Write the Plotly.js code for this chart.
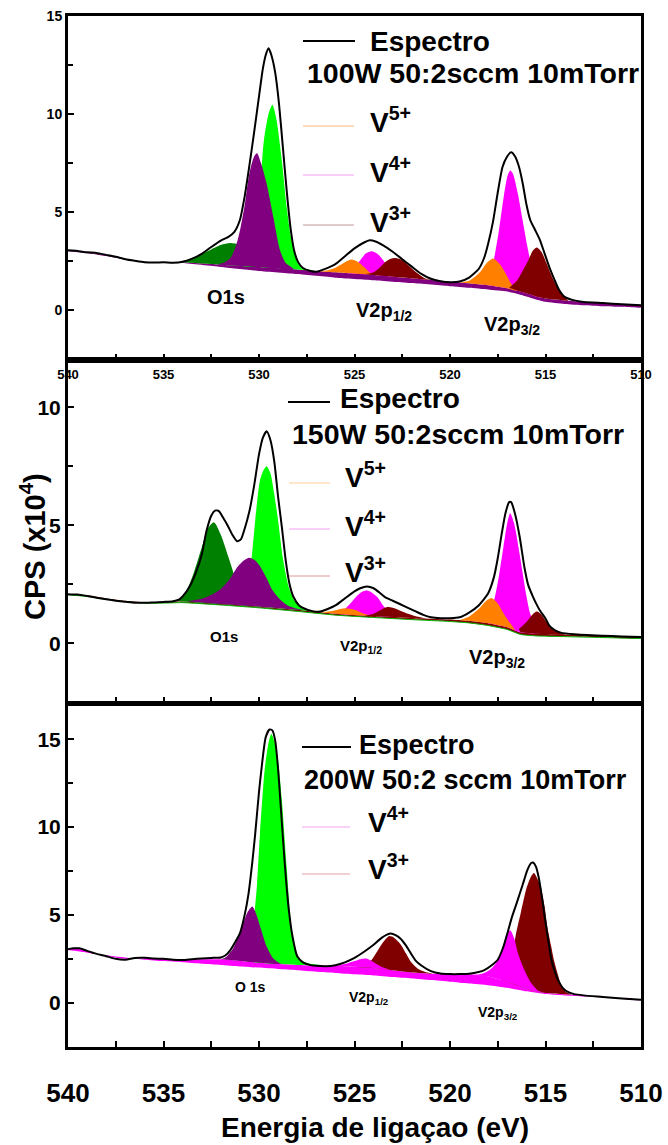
<!DOCTYPE html>
<html>
<head>
<meta charset="utf-8">
<script src="https://cdn.plot.ly/plotly-3.0.1.min.js"></script>
<style>
  html, body { margin: 0; padding: 0; background: #fff; }
  #chart { width: 668px; height: 1145px; }
</style>
</head>
<body>
<div id="chart"></div>
<script>
// ---------- 100 W panel ----------
const topE = [540, 539.5, 539, 538.5, 538, 537.5, 537, 536.5, 536, 535.5, 535, 534.5, 534, 533.5, 533, 532.5, 532, 531.6, 531.3, 531.0, 530.75, 530.5, 530.25, 530.0, 529.8, 529.65, 529.5, 529.35, 529.15, 528.95, 528.75, 528.55, 528.35, 528.15, 527.95, 527.7, 527.3, 527.0, 526.5, 526.0, 525.5, 525.0, 524.5, 524.2, 523.9, 523.5, 523.0, 522.5, 522.0, 521.5, 521.0, 520.5, 520.0, 519.5, 519.0, 518.5, 518.2, 518.0, 517.75, 517.5, 517.25, 517.0, 516.8, 516.6, 516.4, 516.2, 516.0, 515.8, 515.55, 515.3, 515.05, 514.8, 514.55, 514.3, 514.0, 513.5, 513, 512, 511, 510];
const topSpectrum = [3.05, 3.02, 2.95, 2.92, 2.82, 2.72, 2.6, 2.52, 2.45, 2.43, 2.44, 2.42, 2.47, 2.63, 2.87, 3.22, 3.55, 3.74, 3.98, 4.6, 5.8, 7.4, 9.1, 10.9, 12.3, 13.0, 13.35, 13.0, 12.1, 10.5, 8.3, 6.1, 4.2, 3.0, 2.45, 2.15, 2.0, 1.96, 2.12, 2.35, 2.75, 3.15, 3.45, 3.56, 3.5, 3.3, 2.98, 2.6, 2.22, 1.85, 1.6, 1.48, 1.43, 1.46, 1.66, 2.1, 2.7, 3.4, 4.5, 6.0, 7.3, 7.85, 8.05, 7.85, 7.35, 6.5, 5.4, 4.6, 4.1, 3.6, 2.9, 2.2, 1.6, 1.05, 0.68, 0.5, 0.42, 0.36, 0.3, 0.25];
const topBgE = [540, 539, 538, 537, 536, 535, 534, 532, 530, 528, 526, 524, 522, 520, 519, 518, 517, 516.5, 516, 515.5, 515, 514, 513, 512, 511, 510];
const topBgUpper = [3.05, 2.95, 2.8, 2.62, 2.47, 2.43, 2.44, 2.32, 2.2, 2.08, 1.93, 1.8, 1.63, 1.45, 1.37, 1.27, 1.12, 1.0, 0.86, 0.7, 0.6, 0.5, 0.43, 0.37, 0.3, 0.25];
const topBgLower = [3.0, 2.9, 2.76, 2.58, 2.44, 2.41, 2.4, 2.2, 2.0, 1.84, 1.66, 1.53, 1.38, 1.22, 1.14, 1.05, 0.95, 0.84, 0.7, 0.55, 0.43, 0.32, 0.25, 0.2, 0.17, 0.14];

const topO1sGreenE = [530.8, 530.5, 530.2, 530.0, 529.75, 529.5, 529.3, 529.1, 528.8, 528.55, 528.3, 528.0, 527.7, 527.3];
const topO1sGreenY = [2.23, 2.9, 4.2, 5.5, 8.6, 10.0, 10.47, 9.8, 7.6, 5.25, 3.55, 2.5, 2.15, 2.03];
const topO1sDarkE = [534.2, 533.5, 533, 532.5, 532, 531.5, 531, 530.5, 530, 529.5];
const topO1sDarkY = [2.45, 2.65, 2.87, 3.1, 3.32, 3.42, 3.33, 3.0, 2.6, 2.18];
const topO1sPurpleE = [532.2, 531.8, 531.5, 531.2, 531.0, 530.75, 530.5, 530.25, 530.1, 529.9, 529.6, 529.25, 528.9, 528.6, 528.2];
const topO1sPurpleY = [2.33, 2.45, 2.65, 3.3, 4.05, 5.35, 7.0, 7.85, 8.0, 7.5, 6.45, 4.75, 3.05, 2.4, 2.1];

const topV4aE = [525.4, 525.0, 524.7, 524.4, 524.1, 523.8, 523.5, 523.2, 522.9, 522.5];
const topV4aY = [1.88, 2.15, 2.55, 2.9, 3.01, 2.88, 2.55, 2.15, 1.85, 1.7];
const topV5aE = [527.0, 526.5, 526.0, 525.5, 525.15, 524.8, 524.5, 524.2, 523.8];
const topV5aY = [1.99, 2.02, 2.17, 2.45, 2.58, 2.45, 2.2, 1.92, 1.78];
const topV3aE = [524.5, 524.0, 523.7, 523.4, 523.1, 522.85, 522.5, 522.1, 521.7, 521.3, 520.8];
const topV3aY = [1.83, 1.93, 2.15, 2.45, 2.62, 2.66, 2.55, 2.22, 1.88, 1.62, 1.52];
const topV4bE = [518.3, 518.0, 517.7, 517.45, 517.2, 517.0, 516.85, 516.7, 516.45, 516.2, 515.95, 515.7, 515.4, 515.1];
const topV4bY = [1.3, 1.6, 2.6, 4.0, 5.7, 6.8, 7.12, 6.95, 5.95, 4.6, 3.25, 2.1, 1.15, 0.65];
const topV5bE = [519.5, 519.0, 518.7, 518.4, 518.1, 517.75, 517.4, 517.1, 516.8, 516.5];
const topV5bY = [1.41, 1.5, 1.7, 1.97, 2.38, 2.63, 2.35, 1.9, 1.35, 1.0];
const topV3bE = [516.9, 516.5, 516.2, 515.9, 515.65, 515.45, 515.2, 514.95, 514.7, 514.4, 514.1, 513.8];
const topV3bY = [1.15, 1.5, 2.0, 2.55, 3.05, 3.19, 2.95, 2.4, 1.8, 1.2, 0.75, 0.48];

// ---------- 150 W panel ----------
const midE = [540, 539.5, 539, 538.5, 538, 537.5, 537, 536.5, 536, 535.5, 535, 534.5, 534.2, 534, 533.6, 533.3, 533.0, 532.75, 532.5, 532.3, 532.1, 531.9, 531.65, 531.4, 531.15, 530.95, 530.75, 530.5, 530.25, 530.0, 529.8, 529.6, 529.4, 529.2, 529.0, 528.8, 528.6, 528.4, 528.2, 527.9, 527.6, 527.2, 526.8, 526.4, 526.0, 525.5, 525.0, 524.7, 524.35, 524.0, 523.7, 523.4, 523.0, 522.6, 522.2, 521.8, 521.4, 521.0, 520.5, 520, 519.5, 519.0, 518.5, 518.0, 517.7, 517.5, 517.3, 517.1, 516.9, 516.8, 516.6, 516.35, 516.1, 515.9, 515.7, 515.5, 515.3, 515.0, 514.8, 514.5, 514.2, 513.5, 512, 511, 510];
const midSpectrum = [2.08, 2.06, 2.0, 1.93, 1.86, 1.8, 1.76, 1.72, 1.71, 1.73, 1.75, 1.78, 1.85, 1.98, 2.45, 3.0, 3.75, 4.75, 5.4, 5.62, 5.6, 5.35, 5.0, 4.6, 4.32, 4.4, 4.85, 5.6, 6.7, 8.0, 8.7, 8.98, 8.6, 7.7, 6.2, 4.9, 3.5, 2.5, 1.97, 1.6, 1.46, 1.36, 1.34, 1.45, 1.6, 1.9, 2.2, 2.33, 2.4, 2.33, 2.15, 1.95, 1.8, 1.65, 1.5, 1.35, 1.2, 1.1, 1.06, 1.06, 1.1, 1.3, 1.6, 2.12, 2.8, 3.6, 4.6, 5.5, 5.98, 5.98, 5.5, 4.5, 3.2, 2.45, 2.05, 1.7, 1.4, 1.05, 0.75, 0.55, 0.45, 0.38, 0.32, 0.29, 0.26];
const midBgE = [540, 539, 538, 537, 536, 535, 534, 532, 530, 528, 526, 524, 522, 520, 519, 518, 517, 516.3, 515.5, 514, 512, 510];
const midBgUpper = [2.08, 2.03, 1.9, 1.8, 1.74, 1.76, 1.77, 1.66, 1.55, 1.42, 1.25, 1.15, 1.07, 1.0, 0.95, 0.85, 0.68, 0.46, 0.4, 0.37, 0.32, 0.26];
const midBgLower = [2.05, 1.98, 1.86, 1.76, 1.7, 1.7, 1.72, 1.62, 1.5, 1.35, 1.19, 1.09, 1.0, 0.92, 0.86, 0.75, 0.58, 0.37, 0.31, 0.28, 0.24, 0.2];

const midO1sGreenE = [530.9, 530.6, 530.35, 530.15, 529.95, 529.75, 529.6, 529.4, 529.2, 529.0, 528.75, 528.45, 528.15, 527.7, 527.2];
const midO1sGreenY = [1.6, 2.3, 3.9, 5.6, 6.9, 7.35, 7.5, 7.2, 6.3, 5.2, 3.6, 2.4, 1.8, 1.48, 1.35];
const midO1sDarkE = [534.5, 534.0, 533.5, 533.0, 532.65, 532.35, 532.0, 531.6, 531.3, 531.0, 530.6, 530.2];
const midO1sDarkY = [1.8, 1.95, 2.8, 4.05, 4.9, 5.12, 4.6, 3.65, 2.9, 2.3, 1.8, 1.6];
const midO1sPurpleE = [533.8, 533.0, 532.5, 532.0, 531.5, 531.2, 530.8, 530.5, 530.2, 529.9, 529.6, 529.3, 528.9, 528.5, 528.0, 527.5];
const midO1sPurpleY = [1.78, 1.88, 2.05, 2.3, 2.75, 3.15, 3.5, 3.62, 3.5, 3.2, 2.75, 2.25, 1.85, 1.6, 1.46, 1.38];

const midV4aE = [526.2, 525.8, 525.5, 525.2, 524.9, 524.6, 524.35, 524.1, 523.8, 523.5, 523.2, 522.8];
const midV4aY = [1.27, 1.33, 1.45, 1.7, 1.98, 2.18, 2.23, 2.15, 1.95, 1.6, 1.32, 1.13];
const midV5aE = [527.0, 526.5, 526.0, 525.5, 525.0, 524.5, 524.0];
const midV5aY = [1.33, 1.33, 1.4, 1.48, 1.42, 1.25, 1.15];
const midV3aE = [524.5, 524.0, 523.6, 523.3, 523.0, 522.6, 522.2, 521.8, 521.3];
const midV3aY = [1.15, 1.25, 1.42, 1.53, 1.5, 1.38, 1.25, 1.14, 1.05];
const midV4bE = [518.3, 518.0, 517.7, 517.45, 517.2, 517.0, 516.85, 516.65, 516.4, 516.2, 516.0, 515.8, 515.5, 515.2];
const midV4bY = [0.9, 1.2, 1.8, 2.8, 4.1, 5.1, 5.51, 5.1, 4.0, 3.0, 2.0, 1.25, 0.7, 0.42];
const midV5bE = [519.5, 519.0, 518.5, 518.1, 517.8, 517.5, 517.2, 516.9, 516.6];
const midV5bY = [0.97, 1.13, 1.45, 1.8, 1.91, 1.68, 1.27, 0.9, 0.57];
const midV3bE = [516.4, 516.0, 515.7, 515.45, 515.2, 514.9, 514.6, 514.3, 514.0];
const midV3bY = [0.6, 0.9, 1.2, 1.34, 1.2, 0.85, 0.6, 0.45, 0.37];

// ---------- 200 W panel ----------
const botE = [540, 539.7, 539.4, 539, 538.5, 538, 537.5, 537, 536.5, 536, 535.5, 535, 534.5, 534, 533.5, 533, 532.5, 532, 531.75, 531.5, 531.25, 531.0, 530.75, 530.55, 530.35, 530.2, 530.0, 529.85, 529.65, 529.45, 529.3, 529.15, 529.0, 528.85, 528.65, 528.45, 528.25, 528.0, 527.7, 527.3, 527, 526.5, 526.0, 525.5, 525.0, 524.5, 524.0, 523.6, 523.3, 523.1, 522.85, 522.6, 522.3, 522.05, 521.8, 521.5, 521.0, 520.5, 520, 519.5, 519, 518.5, 518.2, 517.8, 517.5, 517.2, 517.0, 516.75, 516.5, 516.2, 515.95, 515.75, 515.65, 515.5, 515.35, 515.2, 515.05, 514.85, 514.7, 514.55, 514.35, 514.1, 513.8, 513.5, 513, 512, 511, 510];
const botSpectrum = [3.05, 3.1, 3.1, 2.95, 2.78, 2.65, 2.5, 2.45, 2.55, 2.56, 2.52, 2.5, 2.45, 2.43, 2.48, 2.52, 2.55, 2.58, 2.7, 3.0, 3.45, 3.95, 5.0, 6.2, 8.0, 9.6, 12.0, 13.5, 15.1, 15.55, 15.5, 14.9, 13.3, 11.0, 7.9, 5.4, 3.8, 2.65, 2.3, 2.14, 2.1, 2.08, 2.14, 2.3, 2.55, 2.9, 3.3, 3.68, 3.88, 3.94, 3.85, 3.66, 3.25, 2.81, 2.4, 2.12, 1.8, 1.66, 1.63, 1.63, 1.65, 1.75, 1.86, 2.15, 2.45, 3.2, 3.94, 4.9, 5.7, 6.7, 7.55, 7.95, 7.98, 7.75, 7.1, 6.1, 4.95, 3.5, 2.5, 1.9, 1.3, 0.85, 0.6, 0.49, 0.42, 0.33, 0.24, 0.17];
const botBgE = [540, 539.5, 539, 538.5, 538, 537, 536, 535, 534, 533, 532, 531, 530, 529, 528, 527, 526, 525, 524, 523, 522, 521, 520, 519, 518, 517, 516, 515.5, 515, 514, 513, 512, 511, 510];
const botBgUpper = [3.05, 3.08, 2.95, 2.8, 2.68, 2.5, 2.52, 2.5, 2.47, 2.48, 2.47, 2.38, 2.28, 2.2, 2.15, 2.12, 2.1, 2.05, 1.98, 1.85, 1.72, 1.65, 1.63, 1.62, 1.5, 1.2, 0.8, 0.62, 0.55, 0.48, 0.4, 0.32, 0.24, 0.18];
const botBgLower = [3.0, 2.93, 2.85, 2.77, 2.7, 2.57, 2.45, 2.37, 2.3, 2.22, 2.15, 2.07, 2.0, 1.92, 1.85, 1.77, 1.7, 1.62, 1.55, 1.46, 1.38, 1.29, 1.2, 1.1, 1.0, 0.85, 0.65, 0.57, 0.5, 0.42, 0.36, 0.3, 0.22, 0.15];

const botO1sGreenE = [531.0, 530.7, 530.45, 530.25, 530.1, 529.95, 529.7, 529.5, 529.35, 529.2, 529.05, 528.8, 528.55, 528.3, 528.0, 527.7, 527.2, 526.7];
const botO1sGreenY = [2.4, 2.8, 3.6, 5.0, 6.8, 9.6, 13.3, 14.8, 15.3, 14.9, 14.2, 11.5, 7.7, 4.3, 2.75, 2.35, 2.2, 2.12];
const botO1sPurpleE = [532.0, 531.7, 531.35, 531.0, 530.8, 530.6, 530.35, 530.1, 529.9, 529.6, 529.25, 528.9, 528.5];
const botO1sPurpleY = [2.47, 2.62, 3.1, 3.95, 4.6, 5.15, 5.48, 4.9, 4.2, 3.2, 2.52, 2.24, 2.18];

const botV3aE = [524.8, 524.4, 524.1, 523.8, 523.5, 523.2, 522.95, 522.6, 522.3, 522.05, 521.7, 521.3, 520.9];
const botV3aY = [2.02, 2.2, 2.45, 2.95, 3.45, 3.79, 3.72, 3.35, 2.8, 2.33, 1.95, 1.75, 1.65];
const botV4aE = [526.0, 525.5, 525.0, 524.7, 524.4, 524.1, 523.8, 523.5, 523.1, 522.7];
const botV4aY = [2.12, 2.2, 2.37, 2.48, 2.52, 2.38, 2.18, 2.0, 1.86, 1.8];
const botV3bE = [517.3, 517.0, 516.8, 516.55, 516.3, 516.0, 515.75, 515.6, 515.4, 515.25, 515.05, 514.9, 514.7, 514.55, 514.35, 514.2, 513.9, 513.6];
const botV3bY = [1.3, 1.4, 2.2, 3.9, 5.1, 6.5, 7.2, 7.39, 7.0, 6.6, 5.5, 4.3, 3.2, 2.4, 1.6, 1.1, 0.6, 0.47];
const botV4bE = [518.8, 518.4, 518.1, 517.8, 517.5, 517.25, 517.05, 516.85, 516.65, 516.45, 516.2, 515.95, 515.7, 515.4, 515.0];
const botV4bY = [1.58, 1.63, 1.75, 1.98, 2.4, 3.1, 3.85, 4.13, 3.7, 2.85, 2.1, 1.5, 1.05, 0.7, 0.56];

// Tick positions and labels
const energyTicks = [540, 535, 530, 525, 520, 515, 510];
const energyTickText = ['540', '535', '530', '525', '520', '515', '510'];

// ---------- colours ----------
const C = {
  green: '#00FF00', dark: '#008000', purple: '#800080',
  orange: '#FF8000', magenta: '#FF00FF', brown: '#800000'
};

const FONT = 'Liberation Sans, Arial, Helvetica, sans-serif';

// closed outline of a fitted component: its curve, then back along the background
function component(E, Y, bgE, bgY, color, xa, ya) {
  const hi = E[0], lo = E[E.length - 1];
  const x = E.slice(), y = Y.slice();
  for (let i = bgE.length - 1; i >= 0; i--) {
    if (bgE[i] > lo && bgE[i] < hi) { x.push(bgE[i]); y.push(bgY[i]); }
  }
  return { x, y, xaxis: xa, yaxis: ya, type: 'scatter', mode: 'lines',
    fill: 'toself', fillcolor: color, line: { width: 0, shape: 'spline', smoothing: 0.7 },
    hoverinfo: 'skip', showlegend: false };
}

function band(bgE, up, low, color, xa, ya) {
  const x = bgE.concat(bgE.slice().reverse());
  const y = up.concat(low.slice().reverse());
  return { x, y, xaxis: xa, yaxis: ya, type: 'scatter', mode: 'lines',
    fill: 'toself', fillcolor: color, line: { width: 0, shape: 'spline', smoothing: 0.5 },
    hoverinfo: 'skip', showlegend: false };
}

function spectrum(E, Y, xa, ya) {
  return { x: E, y: Y, xaxis: xa, yaxis: ya, type: 'scatter', mode: 'lines',
    line: { color: '#000', width: 2, shape: 'spline', smoothing: 0.6 },
    hoverinfo: 'skip', showlegend: false };
}

const traces = [
  // 100 W
  band(topBgE, topBgUpper, topBgLower, C.purple, 'x', 'y'),
  component(topV4aE, topV4aY, topBgE, topBgUpper, C.magenta, 'x', 'y'),
  component(topV5aE, topV5aY, topBgE, topBgUpper, C.orange, 'x', 'y'),
  component(topV3aE, topV3aY, topBgE, topBgUpper, C.brown, 'x', 'y'),
  component(topV4bE, topV4bY, topBgE, topBgUpper, C.magenta, 'x', 'y'),
  component(topV5bE, topV5bY, topBgE, topBgUpper, C.orange, 'x', 'y'),
  component(topV3bE, topV3bY, topBgE, topBgUpper, C.brown, 'x', 'y'),
  component(topO1sGreenE, topO1sGreenY, topBgE, topBgUpper, C.green, 'x', 'y'),
  component(topO1sDarkE, topO1sDarkY, topBgE, topBgUpper, C.dark, 'x', 'y'),
  component(topO1sPurpleE, topO1sPurpleY, topBgE, topBgUpper, C.purple, 'x', 'y'),
  spectrum(topE, topSpectrum, 'x', 'y'),

  // 150 W
  band(midBgE, midBgUpper, midBgLower, C.brown, 'x2', 'y2'),
  { x: midBgE, y: midBgLower, xaxis: 'x2', yaxis: 'y2', type: 'scatter', mode: 'lines',
    line: { color: '#00B000', width: 1, shape: 'spline', smoothing: 0.5 }, hoverinfo: 'skip', showlegend: false },
  component(midV4aE, midV4aY, midBgE, midBgUpper, C.magenta, 'x2', 'y2'),
  component(midV5aE, midV5aY, midBgE, midBgUpper, C.orange, 'x2', 'y2'),
  component(midV3aE, midV3aY, midBgE, midBgUpper, C.brown, 'x2', 'y2'),
  component(midV4bE, midV4bY, midBgE, midBgUpper, C.magenta, 'x2', 'y2'),
  component(midV5bE, midV5bY, midBgE, midBgUpper, C.orange, 'x2', 'y2'),
  component(midV3bE, midV3bY, midBgE, midBgUpper, C.brown, 'x2', 'y2'),
  component(midO1sGreenE, midO1sGreenY, midBgE, midBgUpper, C.green, 'x2', 'y2'),
  component(midO1sDarkE, midO1sDarkY, midBgE, midBgUpper, C.dark, 'x2', 'y2'),
  component(midO1sPurpleE, midO1sPurpleY, midBgE, midBgUpper, C.purple, 'x2', 'y2'),
  spectrum(midE, midSpectrum, 'x2', 'y2'),

  // 200 W
  band(botBgE, botBgUpper, botBgLower, C.magenta, 'x3', 'y3'),
  component(botV3aE, botV3aY, botBgE, botBgUpper, C.brown, 'x3', 'y3'),
  component(botV4aE, botV4aY, botBgE, botBgUpper, C.magenta, 'x3', 'y3'),
  component(botV3bE, botV3bY, botBgE, botBgUpper, C.brown, 'x3', 'y3'),
  component(botV4bE, botV4bY, botBgE, botBgUpper, C.magenta, 'x3', 'y3'),
  component(botO1sGreenE, botO1sGreenY, botBgE, botBgUpper, C.green, 'x3', 'y3'),
  component(botO1sPurpleE, botO1sPurpleY, botBgE, botBgUpper, C.purple, 'x3', 'y3'),
  spectrum(botE, botSpectrum, 'x3', 'y3')
];

const W = 668, H = 1145;
const fx = p => p / W;
const fy = p => 1 - p / H;
const xDomain = [fx(68), fx(641)];

function xAxis(anchor, showLabels, size, standoff) {
  return {
    anchor, domain: xDomain, range: [540, 510], showgrid: false, zeroline: false,
    showline: true, linewidth: 3, linecolor: '#000', mirror: true,
    ticks: 'inside', ticklen: 6, tickwidth: 2, tickcolor: '#000',
    tickmode: 'array', tickvals: energyTicks, ticktext: energyTickText,
    minor: { ticks: 'inside', ticklen: 6, tickwidth: 2, tickcolor: '#000', dtick: 2.5, tick0: 510, showgrid: false },
    showticklabels: showLabels, ticklabelstandoff: standoff,
    tickfont: { family: FONT, size, color: '#000', weight: 'bold' }
  };
}
function yAxis(anchor, dom, range, size) {
  return {
    anchor, domain: dom, range, showgrid: false, zeroline: false,
    showline: true, linewidth: 3, linecolor: '#000', mirror: true,
    ticks: 'inside', ticklen: 6, tickwidth: 2, tickcolor: '#000',
    dtick: 5, tick0: 0,
    minor: { ticks: 'inside', ticklen: 5, tickwidth: 2, tickcolor: '#000', dtick: 2.5, tick0: 0, showgrid: false },
    tickfont: { family: FONT, size, color: '#000', weight: 'bold' }
  };
}

// text helpers (pixel positions on the page)
function txt(text, x, y, size, xanchor, extra) {
  return Object.assign({ text, x: fx(x), y: fy(y), xref: 'paper', yref: 'paper',
    xanchor: xanchor || 'left', yanchor: 'middle', showarrow: false,
    font: { family: FONT, size, color: '#000', weight: 'bold' } }, extra || {});
}
function key(x0, x1, y, color, width) {
  return { type: 'line', xref: 'paper', yref: 'paper', x0: fx(x0), x1: fx(x1), y0: fy(y), y1: fy(y),
    line: { color, width: width || 1 } };
}

const annotations = [
  // 100 W
  txt('Espectro', 368, 41, 28),
  txt('100W 50:2sccm 10mTorr', 305, 73, 28.5),
  txt('V<sup>5+</sup>', 368, 120, 28),
  txt('V<sup>4+</sup>', 368, 170, 28),
  txt('V<sup>3+</sup>', 368, 220, 28),
  txt('O1s', 226, 297, 20, 'center'),
  txt('V2p<sub>1/2</sub>', 354, 311, 20),
  txt('V2p<sub>3/2</sub>', 482, 325, 20),
  // 150 W
  txt('Espectro', 338, 398, 28),
  txt('150W 50:2sccm 10mTorr', 290, 434, 28.5),
  txt('V<sup>5+</sup>', 343, 475, 28),
  txt('V<sup>4+</sup>', 343, 524, 28),
  txt('V<sup>3+</sup>', 343, 570, 28),
  txt('O1s', 224, 636, 15, 'center'),
  txt('V2p<sub>1/2</sub>', 338, 646, 15),
  txt('V2p<sub>3/2</sub>', 467, 658, 20),
  // 200 W
  txt('Espectro', 357, 745, 27),
  txt('200W 50:2 sccm 10mTorr', 302, 780, 27),
  txt('V<sup>4+</sup>', 366, 820, 28),
  txt('V<sup>3+</sup>', 366, 867, 28),
  txt('O 1s', 250, 987, 14, 'center'),
  txt('V2p<sub>1/2</sub>', 347, 998, 14),
  txt('V2p<sub>3/2</sub>', 476, 1013, 14),
  // axis titles
  txt('Energia de ligaçao (eV)', 375, 1127, 28, 'center'),
  txt('CPS (x10<sup>4</sup>)', 33, 547, 29, 'center', { textangle: -90 })
];

const shapes = [
  key(303, 355, 41, '#000', 2),
  key(303, 354, 126, '#FDBA7A'),
  key(303, 354, 175, '#F29CF2'),
  key(303, 354, 225, '#C49A9A'),
  key(288, 330, 402, '#000', 2),
  key(289, 330, 483, '#FFCC99'),
  key(289, 330, 529, '#F0A0F0'),
  key(289, 330, 576, '#E09A9A'),
  key(302, 351, 747, '#000', 2),
  key(302, 350, 827, '#F4A4F4'),
  key(302, 350, 874, '#E0A0A0')
];

const layout = {
  width: W, height: H, paper_bgcolor: '#fff', plot_bgcolor: 'rgba(0,0,0,0)',
  margin: { l: 0, r: 0, t: 0, b: 0 }, showlegend: false,
  xaxis: xAxis('y', true, 13, 0),
  yaxis: yAxis('x', [fy(360), fy(16)], [-2.54, 15], 14),
  xaxis2: xAxis('y2', false, 13, 0),
  yaxis2: yAxis('x2', [fy(702.7), fy(360)], [-2.52, 12], 21),
  xaxis3: xAxis('y3', true, 26, 21),
  yaxis3: yAxis('x3', [fy(1046.7), fy(704)], [-2.5, 17], 21),
  annotations, shapes
};

Plotly.newPlot('chart', traces, layout, { staticPlot: true, displayModeBar: false });
</script>
</body>
</html>
